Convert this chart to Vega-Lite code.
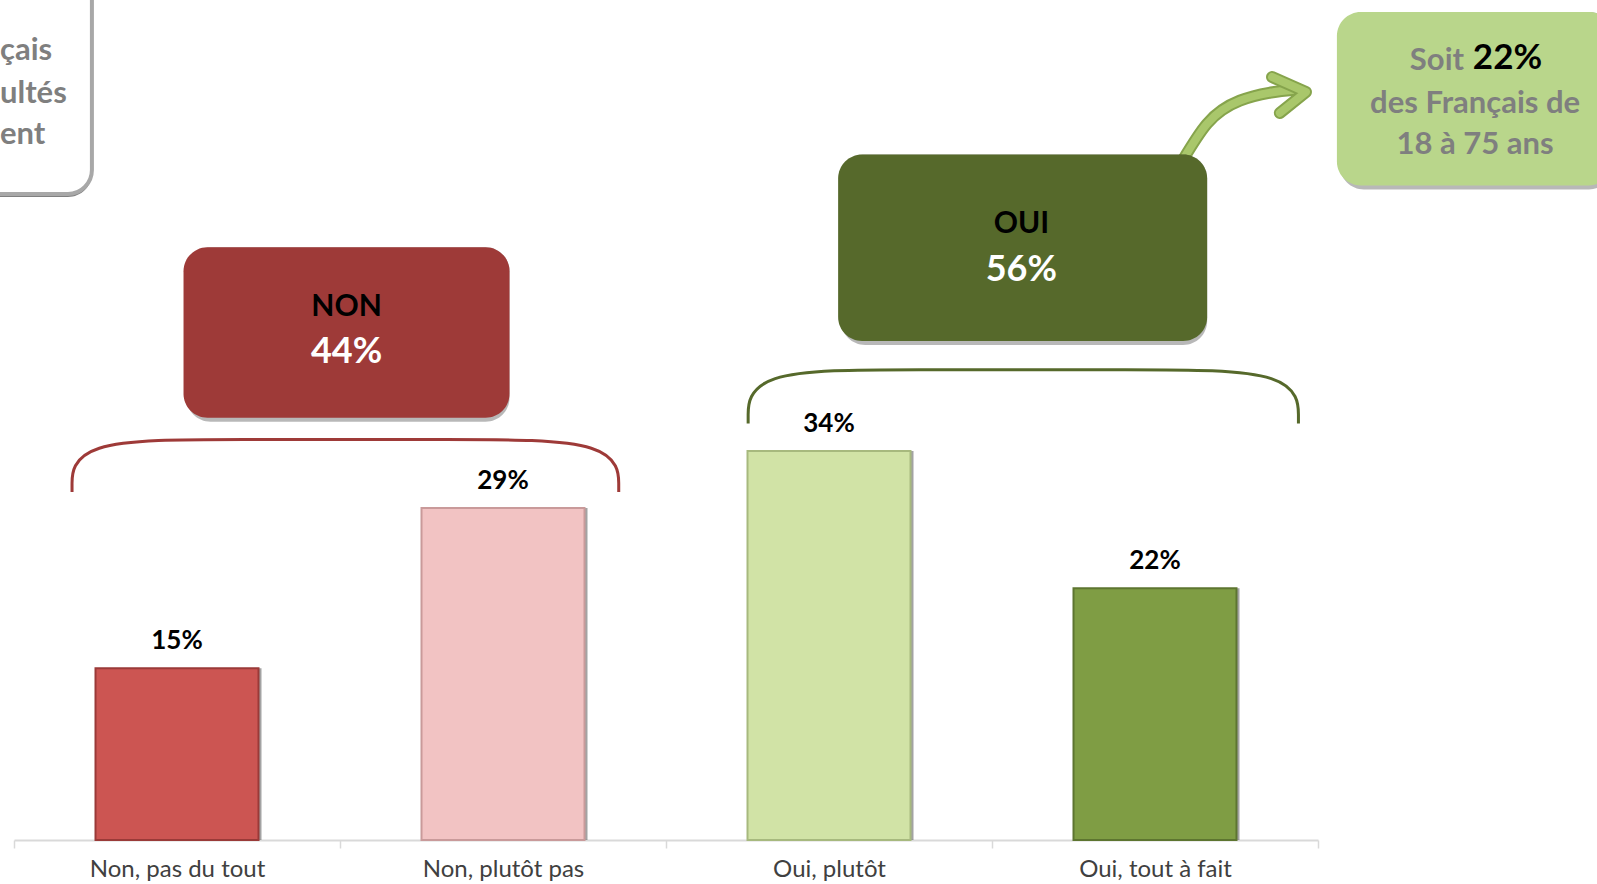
{
  "$schema": "https://vega.github.io/schema/vega-lite/v6.json",
  "width": 1304,
  "height": 840,
  "autosize": {"type": "none"},
  "padding": {"left": 14, "top": 0, "right": 279, "bottom": 44},
  "background": "white",
  "config": {"view": {"stroke": null}, "font": "Lato"},
  "datasets": {
    "bars": [
      {"cat": "Non, pas du tout", "pct": 15, "label": "15%"},
      {"cat": "Non, plutôt pas", "pct": 29, "label": "29%"},
      {"cat": "Oui, plutôt", "pct": 34, "label": "34%"},
      {"cat": "Oui, tout à fait", "pct": 22, "label": "22%"}
    ],
    "boxes": [
      {"name": "NON", "x0": 0.52, "x1": 1.52, "y0": 36.9, "y1": 51.8},
      {"name": "OUI", "x0": 2.528, "x1": 3.66, "y0": 43.6, "y1": 59.9},
      {"name": "Soit", "x0": 4.058, "x1": 4.905, "y0": 57.2, "y1": 72.35}
    ],
    "leftbox": [
      {"name": "left", "x0": -0.35, "x1": 0.239, "y0": 56.45, "y1": 75.5}
    ],
    "brackets": [
      {"grp": "NON", "seq": 0, "xq": 0.178, "v": 30.4},
      {"grp": "NON", "seq": 1, "xq": 0.178, "v": 35.0},
      {"grp": "NON", "seq": 2, "xq": 0.68, "v": 35.0},
      {"grp": "NON", "seq": 3, "xq": 1.35, "v": 35.0},
      {"grp": "NON", "seq": 4, "xq": 1.855, "v": 35.0},
      {"grp": "NON", "seq": 5, "xq": 1.855, "v": 30.4},
      {"grp": "OUI", "seq": 0, "xq": 2.252, "v": 36.4},
      {"grp": "OUI", "seq": 1, "xq": 2.252, "v": 41.1},
      {"grp": "OUI", "seq": 2, "xq": 2.75, "v": 41.1},
      {"grp": "OUI", "seq": 3, "xq": 3.44, "v": 41.1},
      {"grp": "OUI", "seq": 4, "xq": 3.94, "v": 41.1},
      {"grp": "OUI", "seq": 5, "xq": 3.94, "v": 36.4}
    ],
    "arrow": [
      {"seq": 0, "xq": 3.585, "v": 59.4},
      {"seq": 1, "xq": 3.66, "v": 62.6},
      {"seq": 2, "xq": 3.76, "v": 64.6},
      {"seq": 3, "xq": 3.94, "v": 65.6}
    ],
    "arrowhead": [
      {"seq": 0, "xq": 3.859, "v": 66.67},
      {"seq": 1, "xq": 3.963, "v": 65.36},
      {"seq": 2, "xq": 3.883, "v": 63.53}
    ],
    "boxTitles": [
      {"t": "NON", "xq": 1.02, "v": 46.6},
      {"t": "OUI", "xq": 3.09, "v": 53.8}
    ],
    "boxPcts": [
      {"t": "44%", "xq": 1.02, "v": 42.6},
      {"t": "56%", "xq": 3.09, "v": 49.8}
    ],
    "grayText": [
      {"t": "des Français de", "xq": 4.482, "v": 64.3},
      {"t": "18 à 75 ans", "xq": 4.482, "v": 60.7}
    ],
    "soit": [
      {"t": "Soit", "xq": 4.448, "v": 68.1}
    ],
    "soitPct": [
      {"t": "22%", "xq": 4.475, "v": 68.3}
    ],
    "leftText": [
      {"t": "çais", "xq": -0.043, "v": 68.9},
      {"t": "ultés", "xq": -0.043, "v": 65.2},
      {"t": "ent", "xq": -0.043, "v": 61.6}
    ]
  },
  "layer": [
    {
      "data": {"name": "bars"},
      "encoding": {
        "x": {
          "field": "cat",
          "type": "nominal",
          "sort": null,
          "scale": {"paddingInner": 0, "paddingOuter": 0},
          "axis": {
            "title": null,
            "labelAngle": 0,
            "labelFont": "Lato",
            "labelFontSize": 24,
            "labelLimit": 0,
            "labelColor": "#404040",
            "labelPadding": 9,
            "domainColor": "#d9d9d9",
            "domainWidth": 2,
            "tickColor": "#d9d9d9",
            "tickWidth": 1.5,
            "tickSize": 8,
            "tickBand": "extent"
          }
        },
        "y": {
          "field": "pct",
          "type": "quantitative",
          "scale": {"domain": [0, 73.4], "nice": false, "zero": false},
          "axis": null
        }
      },
      "layer": [
        {
          "mark": {"type": "bar", "width": {"band": 0.5}, "xOffset": 3, "opacity": 0.45, "fill": "#333333"}
        },
        {
          "mark": {"type": "bar", "width": {"band": 0.5}, "strokeWidth": 2},
          "encoding": {
            "color": {
              "field": "cat",
              "type": "nominal",
              "scale": {
                "domain": ["Non, pas du tout", "Non, plutôt pas", "Oui, plutôt", "Oui, tout à fait"],
                "range": ["#cc5552", "#f2c3c3", "#d1e3a6", "#7f9d44"]
              },
              "legend": null
            },
            "stroke": {
              "field": "cat",
              "type": "nominal",
              "scale": {
                "domain": ["Non, pas du tout", "Non, plutôt pas", "Oui, plutôt", "Oui, tout à fait"],
                "range": ["#9a3a38", "#c99a9a", "#a7b97e", "#5d7530"]
              },
              "legend": null
            }
          }
        },
        {
          "mark": {"type": "text", "baseline": "alphabetic", "dy": -19, "fontSize": 26, "fontWeight": "bold", "color": "#000000", "font": "Lato"},
          "encoding": {"text": {"field": "label"}}
        }
      ]
    },
    {
      "layer": [
        {
          "data": {"name": "arrow"},
          "mark": {"type": "line", "interpolate": "monotone", "strokeWidth": 12, "color": "#86a44c", "strokeCap": "round"},
          "encoding": {
            "x": {"field": "xq", "type": "quantitative", "scale": {"domain": [0, 4], "nice": false, "zero": false}, "axis": null},
            "y": {"field": "v", "type": "quantitative", "scale": {"domain": [0, 73.4], "nice": false, "zero": false}, "axis": null},
            "order": {"field": "seq"}
          }
        },
        {
          "data": {"name": "arrow"},
          "mark": {"type": "line", "interpolate": "monotone", "strokeWidth": 8, "color": "#a9c76b", "strokeCap": "round"},
          "encoding": {
            "x": {"field": "xq", "type": "quantitative", "scale": {"domain": [0, 4], "nice": false, "zero": false}, "axis": null},
            "y": {"field": "v", "type": "quantitative", "scale": {"domain": [0, 73.4], "nice": false, "zero": false}, "axis": null},
            "order": {"field": "seq"}
          }
        },
        {
          "data": {"name": "arrowhead"},
          "mark": {"type": "line", "strokeWidth": 12, "color": "#86a44c", "strokeCap": "round", "strokeJoin": "round"},
          "encoding": {
            "x": {"field": "xq", "type": "quantitative", "scale": {"domain": [0, 4], "nice": false, "zero": false}, "axis": null},
            "y": {"field": "v", "type": "quantitative", "scale": {"domain": [0, 73.4], "nice": false, "zero": false}, "axis": null},
            "order": {"field": "seq"}
          }
        },
        {
          "data": {"name": "arrowhead"},
          "mark": {"type": "line", "strokeWidth": 8, "color": "#a9c76b", "strokeCap": "round", "strokeJoin": "round"},
          "encoding": {
            "x": {"field": "xq", "type": "quantitative", "scale": {"domain": [0, 4], "nice": false, "zero": false}, "axis": null},
            "y": {"field": "v", "type": "quantitative", "scale": {"domain": [0, 73.4], "nice": false, "zero": false}, "axis": null},
            "order": {"field": "seq"}
          }
        },
        {
          "data": {"name": "boxes"},
          "mark": {"type": "rect", "cornerRadius": 24, "xOffset": 3, "yOffset": 4, "fill": "#000000", "opacity": 0.28},
          "encoding": {
            "x": {"field": "x0", "type": "quantitative", "scale": {"domain": [0, 4], "nice": false, "zero": false}, "axis": null},
            "x2": {"field": "x1"},
            "y": {"field": "y0", "type": "quantitative", "scale": {"domain": [0, 73.4], "nice": false, "zero": false}, "axis": null},
            "y2": {"field": "y1"}
          }
        },
        {
          "data": {"name": "boxes"},
          "mark": {"type": "rect", "cornerRadius": 24},
          "encoding": {
            "x": {"field": "x0", "type": "quantitative", "scale": {"domain": [0, 4], "nice": false, "zero": false}, "axis": null},
            "x2": {"field": "x1"},
            "y": {"field": "y0", "type": "quantitative", "scale": {"domain": [0, 73.4], "nice": false, "zero": false}, "axis": null},
            "y2": {"field": "y1"},
            "color": {
              "field": "name",
              "type": "nominal",
              "scale": {"domain": ["NON", "OUI", "Soit"], "range": ["#9e3a38", "#56692b", "#b9d68b"]},
              "legend": null
            }
          }
        },
        {
          "data": {"name": "leftbox"},
          "mark": {"type": "rect", "cornerRadius": 24, "xOffset": 3, "yOffset": 3, "fill": "#6a6a6a", "opacity": 0.85},
          "encoding": {
            "x": {"field": "x0", "type": "quantitative", "scale": {"domain": [0, 4], "nice": false, "zero": false}, "axis": null},
            "x2": {"field": "x1"},
            "y": {"field": "y0", "type": "quantitative", "scale": {"domain": [0, 73.4], "nice": false, "zero": false}, "axis": null},
            "y2": {"field": "y1"}
          }
        },
        {
          "data": {"name": "leftbox"},
          "mark": {"type": "rect", "cornerRadius": 24, "fill": "#ffffff", "stroke": "#a8a8a8", "strokeWidth": 4},
          "encoding": {
            "x": {"field": "x0", "type": "quantitative", "scale": {"domain": [0, 4], "nice": false, "zero": false}, "axis": null},
            "x2": {"field": "x1"},
            "y": {"field": "y0", "type": "quantitative", "scale": {"domain": [0, 73.4], "nice": false, "zero": false}, "axis": null},
            "y2": {"field": "y1"}
          }
        },
        {
          "data": {"name": "brackets"},
          "mark": {"type": "line", "interpolate": "basis", "strokeWidth": 3},
          "encoding": {
            "x": {"field": "xq", "type": "quantitative", "scale": {"domain": [0, 4], "nice": false, "zero": false}, "axis": null},
            "y": {"field": "v", "type": "quantitative", "scale": {"domain": [0, 73.4], "nice": false, "zero": false}, "axis": null},
            "order": {"field": "seq"},
            "color": {
              "field": "grp",
              "type": "nominal",
              "scale": {"domain": ["NON", "OUI"], "range": ["#a33b3a", "#5f7a2e"]},
              "legend": null
            }
          }
        },
        {
          "data": {"name": "boxTitles"},
          "mark": {"type": "text", "baseline": "middle", "align": "center", "fontSize": 30, "fontWeight": "bold", "color": "#000000", "font": "Lato"},
          "encoding": {
            "x": {"field": "xq", "type": "quantitative", "scale": {"domain": [0, 4], "nice": false, "zero": false}, "axis": null},
            "y": {"field": "v", "type": "quantitative", "scale": {"domain": [0, 73.4], "nice": false, "zero": false}, "axis": null},
            "text": {"field": "t"}
          }
        },
        {
          "data": {"name": "boxPcts"},
          "mark": {"type": "text", "baseline": "middle", "align": "center", "fontSize": 36, "fontWeight": "bold", "color": "#ffffff", "font": "Lato"},
          "encoding": {
            "x": {"field": "xq", "type": "quantitative", "scale": {"domain": [0, 4], "nice": false, "zero": false}, "axis": null},
            "y": {"field": "v", "type": "quantitative", "scale": {"domain": [0, 73.4], "nice": false, "zero": false}, "axis": null},
            "text": {"field": "t"}
          }
        },
        {
          "data": {"name": "grayText"},
          "mark": {"type": "text", "baseline": "middle", "align": "center", "fontSize": 31, "fontWeight": "bold", "color": "#7f7f7f", "font": "Lato"},
          "encoding": {
            "x": {"field": "xq", "type": "quantitative", "scale": {"domain": [0, 4], "nice": false, "zero": false}, "axis": null},
            "y": {"field": "v", "type": "quantitative", "scale": {"domain": [0, 73.4], "nice": false, "zero": false}, "axis": null},
            "text": {"field": "t"}
          }
        },
        {
          "data": {"name": "soit"},
          "mark": {"type": "text", "baseline": "middle", "align": "right", "fontSize": 31, "fontWeight": "bold", "color": "#7f7f7f", "font": "Lato"},
          "encoding": {
            "x": {"field": "xq", "type": "quantitative", "scale": {"domain": [0, 4], "nice": false, "zero": false}, "axis": null},
            "y": {"field": "v", "type": "quantitative", "scale": {"domain": [0, 73.4], "nice": false, "zero": false}, "axis": null},
            "text": {"field": "t"}
          }
        },
        {
          "data": {"name": "soitPct"},
          "mark": {"type": "text", "baseline": "middle", "align": "left", "fontSize": 35, "fontWeight": "bold", "color": "#000000", "font": "Lato"},
          "encoding": {
            "x": {"field": "xq", "type": "quantitative", "scale": {"domain": [0, 4], "nice": false, "zero": false}, "axis": null},
            "y": {"field": "v", "type": "quantitative", "scale": {"domain": [0, 73.4], "nice": false, "zero": false}, "axis": null},
            "text": {"field": "t"}
          }
        },
        {
          "data": {"name": "leftText"},
          "mark": {"type": "text", "baseline": "middle", "align": "left", "fontSize": 31, "fontWeight": "bold", "color": "#7f7f7f", "font": "Lato"},
          "encoding": {
            "x": {"field": "xq", "type": "quantitative", "scale": {"domain": [0, 4], "nice": false, "zero": false}, "axis": null},
            "y": {"field": "v", "type": "quantitative", "scale": {"domain": [0, 73.4], "nice": false, "zero": false}, "axis": null},
            "text": {"field": "t"}
          }
        }
      ]
    }
  ],
  "resolve": {"scale": {"x": "independent", "color": "independent", "stroke": "independent"}}
}
